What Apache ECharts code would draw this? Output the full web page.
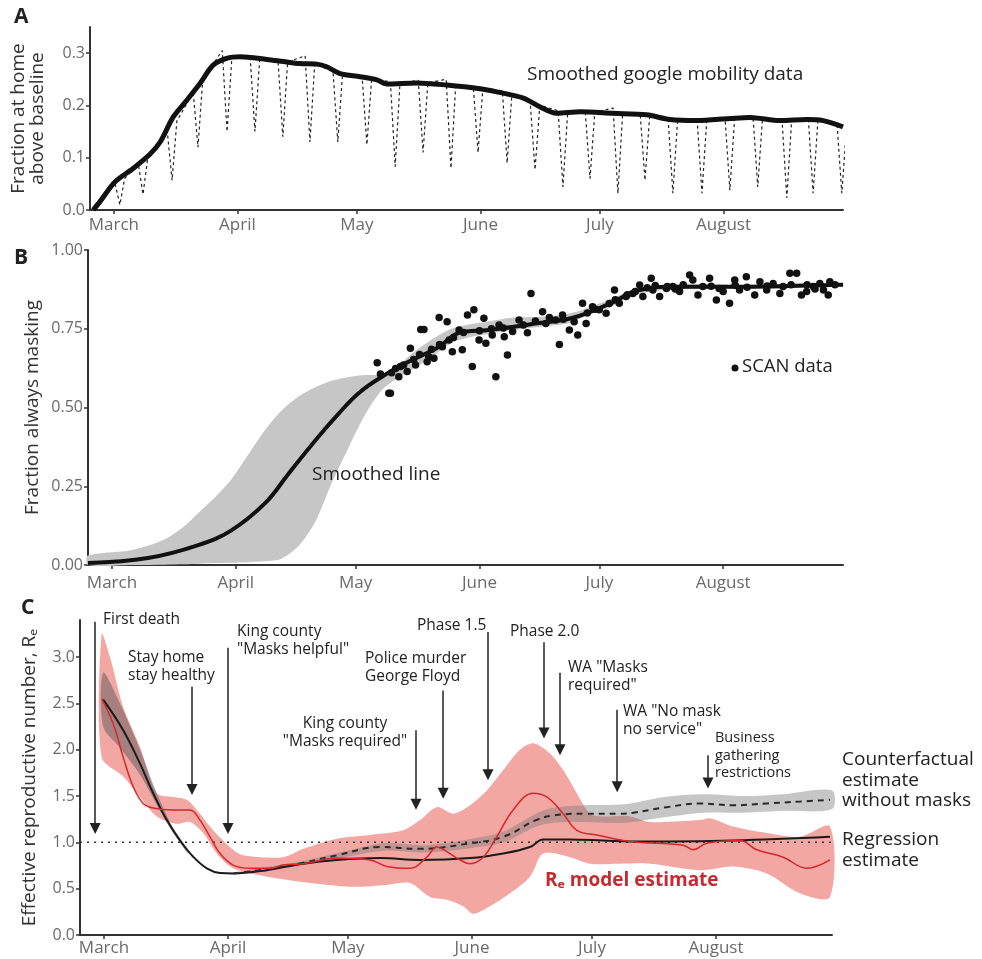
<!DOCTYPE html>
<html>
<head>
<meta charset="utf-8">
<script src="https://cdn.jsdelivr.net/npm/echarts@6/dist/echarts.min.js"></script>
<style>
html,body{margin:0;padding:0;background:#fff}
#chart{width:982px;height:959px}
</style>
</head>
<body>
<div id="chart"></div>
<script>
// days are counted from 1 March 2020 (day 0)
var monthStarts = [0, 31, 61, 92, 122, 153];
var monthNames = ['March', 'April', 'May', 'June', 'July', 'August'];

// A: google mobility, smoothed curve
var smoothADays = [-5.2,-3.5,0.3,4.9,9.1,11.6,14.9,18.3,21.6,24.9,28.3,31.7,38.4,42.5,46.7,50.9,53.4,56.8,61.8,66,68.5,76,83.5,91.9,96.1,102.8,107,111.1,117,125.3,133.7,139.6,146.3,154.6,159.6,167.2,173.9,178,182.3,183];
var smoothAValues = [0,0.016,0.054,0.08,0.107,0.13,0.178,0.21,0.242,0.277,0.29,0.293,0.288,0.284,0.28,0.279,0.274,0.261,0.255,0.249,0.241,0.243,0.239,0.232,0.226,0.214,0.197,0.185,0.188,0.185,0.182,0.173,0.171,0.175,0.177,0.171,0.173,0.171,0.161,0.159];
// A: raw daily data, weekly dips
var dipDays = [1.5,7.3,14.6,21.1,28.4,35.4,42.4,49.2,56.2,63.5,70.6,77.6,84.6,91.4,98.7,105.7,112.7,119.5,126.5,133.3,140.3,147.6,154.6,161.6,168.9,175.5,182.7];
var dipLows = [0.01,0.03,0.057,0.12,0.15,0.15,0.14,0.13,0.13,0.125,0.083,0.11,0.08,0.11,0.09,0.077,0.044,0.06,0.032,0.057,0.032,0.032,0.038,0.044,0.023,0.032,0.032];
var dipTopsBefore = [0.05,0.09,0.15,0.225,0.305,0.292,0.285,0.295,0.265,0.255,0.245,0.248,0.25,0.236,0.228,0.205,0.19,0.19,0.195,0.183,0.176,0.172,0.175,0.18,0.172,0.174,0.165];
var dipTopsAfter = [0.06,0.1,0.17,0.25,0.29,0.29,0.283,0.279,0.262,0.252,0.242,0.243,0.24,0.232,0.222,0.2,0.186,0.187,0.185,0.182,0.174,0.171,0.175,0.176,0.171,0.172,0.16];

// B: masking
var smoothBDays = [-6,9,21.6,29.9,38.4,44.2,51,56.7,61.8,67.5,73.6,81.8,86.9,94.4,106.9,115.2,123.8,132.1,140.3,157.2,179.7,183];
var smoothBValues = [0.006,0.022,0.063,0.11,0.197,0.29,0.397,0.48,0.546,0.597,0.641,0.692,0.737,0.746,0.768,0.784,0.825,0.873,0.883,0.883,0.889,0.89];
var bandBDays = [-6,5,13.3,18,21.6,25.8,29.9,34.2,38.4,42.4,46.7,51,55,59.3,63.5,67.5,70.5,75,80,85,90,95,100,110,115,120,125,130,140,160,183];
var bandBHigh = [0.03,0.048,0.082,0.122,0.165,0.215,0.272,0.352,0.43,0.49,0.535,0.565,0.585,0.597,0.603,0.605,0.62,0.67,0.715,0.75,0.765,0.775,0.785,0.79,0.8,0.82,0.845,0.87,0.89,0.89,0.895];
var bandBLow = [0,0,0.001,0.002,0.004,0.006,0.007,0.009,0.012,0.02,0.06,0.14,0.26,0.375,0.48,0.555,0.585,0.62,0.66,0.705,0.725,0.735,0.745,0.76,0.77,0.8,0.82,0.855,0.875,0.877,0.885];
var scanDays = [66.4,67.2,69.3,69.7,71.0,72.2,71.8,73.9,74.7,76.0,77.3,78.1,78.9,79.3,80.6,81.9,82.7,83.9,84.4,85.2,86.9,87.7,89.0,90.2,90.6,91.9,93.1,93.6,95.2,96.1,96.9,98.2,99.0,100.3,101.9,104.0,104.9,107.8,108.6,111.1,112.0,112.8,114.5,115.7,116.6,117.8,118.7,120.3,122.0,123.7,125.8,127.0,128.7,130.4,132.1,132.9,135.0,135.4,137.1,138.8,140.4,142.1,144.6,145.4,146.7,147.9,149.6,151.3,153.0,154.6,155.9,157.1,158.8,160.9,162.2,163.9,165.5,167.2,169.7,171.4,172.6,173.9,175.6,177.2,178.1,179.3,179.7,
	70,73,75.5,77,80,82,85.5,88,92,95,98,103,106,109.5,113,119,121,124.5,126,129,131,134,136,139,141,143,150,152,156,159,164,168,170,174,176,181];
var scanValues = [0.642,0.606,0.545,0.545,0.624,0.630,0.598,0.614,0.688,0.635,0.748,0.748,0.645,0.661,0.656,0.786,0.693,0.772,0.714,0.677,0.746,0.683,0.794,0.630,0.810,0.714,0.783,0.704,0.730,0.598,0.762,0.725,0.667,0.741,0.778,0.737,0.862,0.804,0.767,0.778,0.700,0.794,0.746,0.772,0.730,0.831,0.767,0.820,0.810,0.799,0.873,0.831,0.852,0.862,0.889,0.852,0.910,0.873,0.852,0.878,0.884,0.868,0.921,0.905,0.857,0.884,0.910,0.841,0.868,0.831,0.905,0.873,0.915,0.857,0.899,0.873,0.894,0.862,0.926,0.926,0.857,0.868,0.884,0.894,0.873,0.857,0.899,
	0.61,0.635,0.652,0.668,0.685,0.7,0.722,0.738,0.744,0.75,0.752,0.762,0.775,0.786,0.78,0.8,0.812,0.83,0.842,0.858,0.868,0.88,0.887,0.884,0.876,0.89,0.885,0.878,0.888,0.882,0.886,0.884,0.89,0.89,0.876,0.89];

// C: effective reproductive number
var reDays = [-0.6,2.3,4.8,7.3,9.8,12.3,17.3,21.5,24,26.5,29,32.3,36.5,41.5,44.8,49.8,58.2,66.5,70.7,76.5,80.7,83.2,85.7,89,91.5,94.8,98.2,102.3,107.3,110.7,114.8,118.2,123.2,131.5,144.8,147.3,150.7,159,163.2,169.8,175.7,181.5];
var reValues = [2.55,2.28,1.92,1.60,1.42,1.37,1.35,1.35,1.24,1.06,0.88,0.755,0.72,0.72,0.755,0.77,0.83,0.81,0.74,0.72,0.84,0.95,0.90,0.81,0.77,0.84,1.06,1.35,1.53,1.49,1.31,1.13,1.08,1.01,0.97,0.92,0.99,1.02,0.92,0.84,0.72,0.81];
var reHighDays = [-0.6,1.5,4.8,9,13.2,17.3,20.7,23.2,27.3,31.5,34.8,44.8,49.8,58.2,66.5,74.8,79,83.2,87.3,91.5,95.7,99.8,104,107.3,111.5,114.8,118.2,121.5,124.8,131.5,136.5,149,151.5,157.3,165.7,174,181.5];
var reHigh = [3.25,3.0,2.46,2.03,1.53,1.49,1.46,1.35,1.13,0.95,0.86,0.84,0.93,1.04,1.08,1.13,1.24,1.38,1.31,1.40,1.56,1.78,2.0,2.07,1.96,1.78,1.53,1.31,1.28,1.28,1.22,1.24,1.26,1.17,1.10,1.06,1.17];
var reLowDays = [-0.6,4.8,9,13.2,18.2,21.5,24.8,28.2,32.3,40.7,54,62.3,70.7,76.5,81.5,85.7,89.8,92.3,96.5,101.5,106.5,109.8,116.5,121.5,129,136.5,149,157.3,165.7,174,181.5];
var reLow = [1.92,1.71,1.49,1.28,1.20,1.22,1.10,0.88,0.72,0.63,0.55,0.52,0.54,0.56,0.41,0.38,0.31,0.23,0.31,0.45,0.63,0.88,0.84,0.77,0.77,0.77,0.70,0.74,0.665,0.45,0.41];
var regDays = [-0.2,4.8,9,12.3,15.7,19,22.3,25.7,29,32.3,40.7,49.8,58.2,69,79,91.5,99.8,106.5,109.8,116.5,124.8,131.5,140.7,157.3,181.5];
var regValues = [2.54,2.21,1.85,1.53,1.24,1.02,0.845,0.72,0.67,0.665,0.70,0.77,0.81,0.83,0.81,0.83,0.88,0.95,1.03,1.03,1.02,1.01,1.01,1.02,1.06];
var regBandDays = [-0.2,4,9,13,17,21];
var regBandHigh = [2.83,2.5,2.0,1.55,1.18,0.92];
var regBandLow = [2.25,2.02,1.73,1.42,1.12,0.88];
var cfDays = [32.3,40.7,49.8,58.2,69,79,91.5,99.8,108,112.3,120.6,129,132.3,140.7,149,157.3,165.7,174,181.5];
var cfValues = [0.665,0.71,0.78,0.86,0.95,0.93,0.99,1.06,1.24,1.29,1.31,1.31,1.32,1.38,1.42,1.40,1.42,1.44,1.46];
var cfBandDays = [33,50,60,70,80,92,100,108,112,120,130,140,150,160,170,182];
var cfBandHigh = [0.68,0.8,0.9,0.99,0.97,1.04,1.12,1.31,1.37,1.40,1.41,1.49,1.52,1.50,1.52,1.56];
var cfBandLow = [0.66,0.76,0.84,0.91,0.89,0.94,1.0,1.17,1.21,1.22,1.21,1.27,1.32,1.32,1.34,1.36];

// events marked with arrows in C
var eventNames = ['First death', 'Stay home\nstay healthy', 'King county\n"Masks helpful"', 'King county\n"Masks required"', 'Police murder\nGeorge Floyd', 'Phase 1.5', 'Phase 2.0', 'WA "Masks\nrequired"', 'WA "No mask\nno service"', 'Business\ngathering\nrestrictions'];
var eventDays = [-2.2, 22, 31, 78, 84.8, 96, 110, 114, 128.3, 151];
var eventTop = [3.38, 2.68, 3.10, 2.21, 2.64, 3.27, 3.16, 2.83, 2.43, 1.94];
var eventTip = [1.15, 1.57, 1.15, 1.41, 1.53, 1.73, 2.18, 2.0, 1.6, 1.64];
// where the event texts sit (pixels, first line centre)
var eventLabelPos = [[103,620,'left'],[128,658,'left'],[237,632,'left'],[345,724,'center'],[365,659,'left'],[417,626,'left'],[510,632,'left'],[568,668,'left'],[623,712,'left'],[715,738,'left']];

var FONT = '"Open Sans", "Noto Sans", "DejaVu Sans", sans-serif';
var myChart = echarts.init(document.getElementById('chart'), null, {renderer: 'canvas'});

function pairs(xs, ys) {
	var out = [];
	for (var i = 0; i < xs.length; i++) out.push([xs[i], ys[i]]);
	return out;
}

function xAxisFor(idx, min, max, margin) {
	return {
		type: 'value', gridIndex: idx, min: min, max: max,
		axisLine: {show: true, onZero: false, lineStyle: {color: '#333', width: 2}},
		axisTick: {show: true, customValues: monthStarts, length: 4, lineStyle: {color: '#333', width: 1.5}},
		axisLabel: {customValues: monthStarts, margin: margin, color: '#6a6a6a', fontSize: 17, fontFamily: FONT,
			formatter: function (v) { var k = monthStarts.indexOf(Math.round(v)); return k < 0 ? '' : monthNames[k]; }},
		splitLine: {show: false}
	};
}

function yAxisFor(idx, max, ticks, digits, name, gap) {
	return {
		type: 'value', gridIndex: idx, min: 0, max: max,
		name: name, nameLocation: 'middle', nameRotate: 90, nameGap: gap, nameMoveOverlap: false,
		nameTextStyle: {fontSize: 19, color: '#333', fontFamily: FONT, lineHeight: 19},
		axisLine: {show: true, onZero: false, lineStyle: {color: '#333', width: 2}},
		axisTick: {show: true, customValues: ticks, length: 4, lineStyle: {color: '#333', width: 1.5}},
		axisLabel: {customValues: ticks, margin: 5, color: '#6a6a6a', fontSize: 16, fontFamily: FONT,
			formatter: function (v) { return v.toFixed(digits); }},
		splitLine: {show: false}
	};
}

// shaded band drawn as one polygon through the axis scales
function bandSeries(idx, hiDays, hi, loDays, lo, color) {
	return {
		type: 'custom', xAxisIndex: idx, yAxisIndex: idx, z: 1, silent: true,
		data: pairs(hiDays, hi),
		encode: {x: 0, y: 1},
		renderItem: function (params, api) {
			if (params.dataIndex !== 0) return null;
			var pts = [];
			for (var i = 0; i < hiDays.length; i++) pts.push(api.coord([hiDays[i], hi[i]]));
			for (var j = loDays.length - 1; j >= 0; j--) pts.push(api.coord([loDays[j], lo[j]]));
			return {type: 'polygon', shape: {points: pts, smooth: 0.3}, style: {fill: color}};
		}
	};
}

// raw mobility line: level before the dip, the dip, level after
var rawA = [];
for (var i = 0; i < dipDays.length; i++) {
	rawA.push([dipDays[i] - 1.2, dipTopsBefore[i]]);
	rawA.push([dipDays[i], dipLows[i]]);
	rawA.push([dipDays[i] + 1.2, dipTopsAfter[i]]);
}

var arrowData = [];
for (var e = 0; e < eventDays.length; e++) {
	arrowData.push([{coord: [eventDays[e], eventTop[e]]}, {coord: [eventDays[e], eventTip[e]]}]);
}

var graphics = [];
function addText(txt, x, y, opts) {
	opts = opts || {};
	var lh = opts.lineHeight || 18;
	graphics.push({type: 'text', x: x, y: y - lh / 2, z: 100, silent: true,
		style: {text: txt, fill: opts.fill || '#222', font: (opts.weight || 'normal') + ' ' + (opts.size || 15.5) + 'px ' + FONT,
			align: opts.align || 'left', verticalAlign: 'top', lineHeight: lh}});
}
addText('A', 14, 17, {size: 21, weight: 'bold', lineHeight: 22});
addText('B', 14, 258, {size: 21, weight: 'bold', lineHeight: 22});
addText('C', 21, 608, {size: 21, weight: 'bold', lineHeight: 22});
addText('Smoothed google mobility data', 527, 75, {size: 19, lineHeight: 22});
addText('Smoothed line', 312, 475, {size: 19, lineHeight: 22});
addText('SCAN data', 742, 367, {size: 18.5, lineHeight: 22});
graphics.push({type: 'circle', shape: {cx: 735, cy: 368, r: 3.5}, style: {fill: '#111'}, z: 100, silent: true});
for (var t = 0; t < eventNames.length; t++) {
	var p = eventLabelPos[t];
	var small = t === eventNames.length - 1;
	addText(eventNames[t], p[0], p[1], {align: p[2], size: small ? 14.5 : 15.5, lineHeight: small ? 17.5 : 18});
}
addText('Counterfactual\nestimate\nwithout masks', 842, 760, {size: 19, lineHeight: 20.5});
addText('Regression\nestimate', 842, 840, {size: 19, lineHeight: 20.5});
addText('R\u2091 model estimate', 545, 881, {size: 19, weight: 'bold', fill: '#c42a2f', lineHeight: 22});

var option = {
	animation: false,
	backgroundColor: '#fff',
	grid: [
		{left: 90, top: 27, width: 753, height: 183, outerBoundsMode: 'none'},
		{left: 88, top: 250, width: 755, height: 315, outerBoundsMode: 'none'},
		{left: 80, top: 620, width: 752, height: 315, outerBoundsMode: 'none'}
	],
	xAxis: [xAxisFor(0, -6, 183, 7), xAxisFor(1, -6, 183, 10), xAxisFor(2, -6, 182, 5)],
	yAxis: [
		yAxisFor(0, 0.35, [0, 0.1, 0.2, 0.3], 1, 'Fraction at home\nabove baseline', 43),
		yAxisFor(1, 1, [0, 0.25, 0.5, 0.75, 1], 2, 'Fraction always masking', 46),
		yAxisFor(2, 3.4, [0, 0.5, 1, 1.5, 2, 2.5, 3], 1, 'Effective reproductive number, R\u2091', 41)
	],
	series: [
		{type: 'line', xAxisIndex: 0, yAxisIndex: 0, data: rawA, symbol: 'none', z: 2,
			lineStyle: {color: '#222', width: 1.2, type: [3, 3]}},
		{type: 'line', xAxisIndex: 0, yAxisIndex: 0, data: pairs(smoothADays, smoothAValues), symbol: 'none', smooth: 0.3, z: 3,
			lineStyle: {color: '#111', width: 5}},

		bandSeries(1, bandBDays, bandBHigh, bandBDays, bandBLow, '#c6c6c6'),
		{type: 'line', xAxisIndex: 1, yAxisIndex: 1, data: pairs(smoothBDays, smoothBValues), symbol: 'none', smooth: 0.4, z: 3,
			lineStyle: {color: '#111', width: 4}},
		{type: 'scatter', xAxisIndex: 1, yAxisIndex: 1, data: pairs(scanDays, scanValues), symbolSize: 7.5, z: 4,
			itemStyle: {color: '#111', opacity: 1}},

		bandSeries(2, reHighDays, reHigh, reLowDays, reLow, 'rgba(232,104,94,0.58)'),
		bandSeries(2, regBandDays, regBandHigh, regBandDays, regBandLow, 'rgba(90,90,90,0.5)'),
		bandSeries(2, cfBandDays, cfBandHigh, cfBandDays, cfBandLow, 'rgba(120,120,120,0.42)'),
		{type: 'line', xAxisIndex: 2, yAxisIndex: 2, data: [[-6, 1], [182, 1]], symbol: 'none', z: 2, silent: true,
			lineStyle: {color: '#333', width: 1.5, type: [2, 5]},
			markLine: {silent: true, symbol: ['none', 'triangle'], symbolSize: 11, label: {show: false},
				lineStyle: {color: '#222', width: 1.5, type: 'solid'}, itemStyle: {color: '#222'}, data: arrowData}},
		{type: 'line', xAxisIndex: 2, yAxisIndex: 2, data: pairs(regDays, regValues), symbol: 'none', smooth: 0.4, z: 3,
			lineStyle: {color: '#1a1a1a', width: 2}},
		{type: 'line', xAxisIndex: 2, yAxisIndex: 2, data: pairs(cfDays, cfValues), symbol: 'none', smooth: 0.4, z: 3,
			lineStyle: {color: '#2a2a2a', width: 2, type: [6, 5]}},
		{type: 'line', xAxisIndex: 2, yAxisIndex: 2, data: pairs(reDays, reValues), symbol: 'none', smooth: 0.4, z: 4,
			lineStyle: {color: '#d8262a', width: 1.5}}
	],
	graphic: graphics
};
myChart.setOption(option);
</script>
</body>
</html>
